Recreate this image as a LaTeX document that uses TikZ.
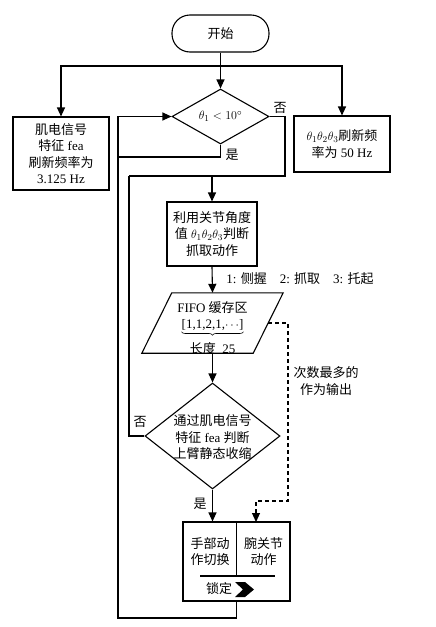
\documentclass[tikz,border=0pt]{standalone}
\usepackage{fontspec}
\setmainfont{Liberation Serif}
\newfontfamily\cjk{Noto Sans CJK SC}
\newcommand\zhs[1]{{\cjk #1}}
\usetikzlibrary{arrows.meta,shapes.geometric,calc,decorations.pathreplacing}
\begin{document}
\begin{tikzpicture}[x=1pt,y=-1pt,
  every node/.style={font=\fontsize{13}{16.5}\selectfont, inner sep=0pt},
  ln/.style={line width=1.1pt},
  arr/.style={ln,-{Triangle[length=9pt,width=8pt]}},
  box/.style={draw,ln,align=center},
  term/.style={draw,ln,rounded corners=18pt,minimum width=97,minimum height=37},
  dia/.style={draw,ln,diamond,inner sep=0pt},
  txt/.style={align=center}
]
\useasboundingbox (0,0) rectangle (436,627);

% nodes
\node[term] (start) at (220.5,33.5) {\zhs{开始}};
\coordinate (sp) at (220.5,66);
\node[box,minimum width=96,minimum height=73] (emg) at (61,153.5)
  {\zhs{肌电信号}\\\zhs{特征} fea\\\zhs{刷新频率为}\\3.125 Hz};
\node[box,minimum width=96,minimum height=56] (ang) at (342,144)
  {$\theta_1\theta_2\theta_3$\zhs{刷新频}\\\zhs{率为} 50 Hz};
\node[dia,minimum width=97,minimum height=55] (d1) at (220.5,116.5) {};
\node[txt] (d1t) at (220.5,116.5) {$\theta_1 < 10^\circ$};
\node (no1) at (280,108) {\zhs{否}};
\node (yes1) at (232,155) {\zhs{是}};

\node[box,minimum width=90,minimum height=64] (act) at (212,234)
  {\zhs{利用关节角度}\\\zhs{值} $\theta_1\theta_2\theta_3$\zhs{判断}\\\zhs{抓取动作}};
\node (lab) at (300,279) {1: \zhs{侧握}\quad 2: \zhs{抓取}\quad 3: \zhs{托起}};

\node[minimum width=111,minimum height=60] (fifo) at (212.5,323) {};
\draw[ln] ([xshift=15pt]fifo.north west) -- ([xshift=15pt]fifo.north east)
  -- ([xshift=-15pt]fifo.south east) -- ([xshift=-15pt]fifo.south west) -- cycle;
\node (f1) at (212.5,307.5) {FIFO \zhs{缓存区}};
\node (f2) at (212.5,325) {[1,1,2,1,$\cdots$]};
\draw[line width=0.6pt,decorate,decoration={brace,mirror,amplitude=3.5pt}]
  ([yshift=-1pt]f2.south west) -- ([yshift=-1pt]f2.south east);
\node (f3) at (212.5,348.5) {\zhs{长度}\ \ 25};

\node[dia,minimum width=135,minimum height=106] (d2) at (212.5,436) {};
\node[txt] (d2t) at (212.5,437.5) {\zhs{通过肌电信号}\\\zhs{特征} fea \zhs{判断}\\\zhs{上臂静态收缩}};
\node (no2) at (140,422) {\zhs{否}};
\node (yes2) at (200,504) {\zhs{是}};

\node[txt] (dl) at (326,381) {\zhs{次数最多的}\\\zhs{作为输出}};

\node[box,minimum width=107,minimum height=79] (lock) at (236.5,561.5) {};
\coordinate (hl) at (200,576);
\coordinate (hr) at (275,576);
\draw[ln] (lock.north) -- (lock.north |- hl);
\draw[ln] (hl) -- (hr);
\node[txt] (hand) at (210,551.5) {\zhs{手部动}\\\zhs{作切换}};
\node[txt] (wrist) at (263.5,551.5) {\zhs{腕关节}\\\zhs{动作}};
\node (lk) at (219,589) {\zhs{锁定}};
\fill (235,582) -- (245,582) -- (254,589.5) -- (245,597) -- (235,597) -- (243,589.5) -- cycle;

% connectors
\draw[ln] (start.south) -- (sp);
\draw[arr] (sp) -- (d1.north);
\draw[arr] (sp) -| (emg.north);
\draw[arr] (sp) -| (ang.north);
\coordinate (lx) at (118,618);
\draw[arr] (lock.south) |- (lx) |- (d1.west);
\coordinate (yl) at (118,157);
\draw[ln] (d1.south) |- (yl);
\coordinate (nr) at (285,176);
\coordinate (nl) at (129,176);
\draw[ln] (d1.east) -| (nr) -- (nl);
\draw[arr] (act.north |- nr) -- (act.north);
\draw[ln] (d2.west) -| (nl);
\draw[arr] (act.south) -- (fifo.north);
\draw[arr] (fifo.south) -- (d2.north);
\draw[arr] (d2.south) -- (d2.south |- lock.north);
\coordinate (dr) at (288,501);
\coordinate (wt) at (256,522);
\draw[arr,dash pattern=on 4pt off 3pt] (fifo.east) -| (dr) -| (wt);
\end{tikzpicture}
\end{document}
